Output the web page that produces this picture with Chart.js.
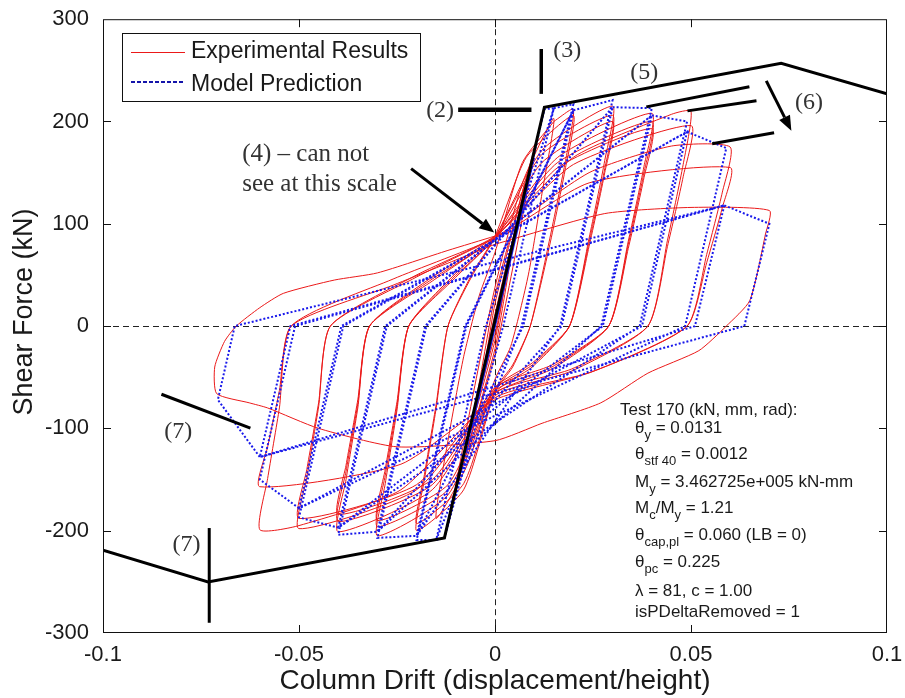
<!DOCTYPE html>
<html>
<head>
<meta charset="utf-8">
<script src="https://cdn.jsdelivr.net/npm/chart.js@4.4.1/dist/chart.umd.min.js"></script>
<style>
  html, body { margin: 0; padding: 0; background: #fff; }
</style>
</head>
<body>
<canvas id="chart" width="905" height="698"></canvas>
<script>
/* Column drift vs shear force – test 170, experiment vs model */

const SANS = '"Liberation Sans", Arial, Helvetica, sans-serif';
const SERIF = '"Liberation Serif", "Times New Roman", serif';

// ── Axis ticks ──────────────────────────────────────
const xTicks = [-0.1, -0.05, 0, 0.05, 0.1];
const yTicks = [-300, -200, -100, 0, 100, 200, 300];

// ── Model backbone (drift, kN) ──────────────────────
const backbone = [[-0.1, -219], [-0.0732, -250], [-0.0129, -207], [0.0126, 214], [0.073, 257], [0.1, 227]];

// ── Experimental results, one array per amplitude group ──
const expSmall = [[0, 0], [0.0035, 62], [0.0018, 25], [0, -8], [-0.0035, -58], [-0.0017, -20], [0, 12],
  [0.005, 92], [0.0026, 42], [0, -14], [-0.005, -84], [-0.0024, -32], [0, 22], [0.0075, 138], [0.0042, 70],
  [0, -22], [-0.0075, -124], [-0.004, -55], [0, 30], [0.0055, 110], [0.01, 172], [0.0062, 90], [0, -28],
  [-0.0055, -100], [-0.01, -158], [-0.006, -75], [0, 38], [0.007, 140], [0.015, 203], [0.012, 130],
  [0.0085, 50], [0.004, -20], [0, -52], [-0.007, -135], [-0.015, -188], [-0.012, -112], [-0.008, -30],
  [-0.004, 30], [0, 72], [0.007, 160], [0.015, 200]];
const exp02 = [[0.015, 200], [0.02, 212], [0.018, 162], [0.014, 86], [0.009, 0], [0.0045, -40], [0, -64],
  [-0.008, -160], [-0.02, -200], [-0.018, -150], [-0.015, -80], [-0.012, 0], [-0.006, 50], [0, 88],
  [0.008, 165], [0.02, 206], [0.018, 155], [0.014, 80], [0.009, 0], [0.0045, -38], [0, -62], [-0.008, -154],
  [-0.02, -193], [-0.018, -145], [-0.015, -76], [-0.012, 0], [-0.006, 48], [0, 86]];
const exp03 = [[0, 86], [0.012, 172], [0.03, 215], [0.028, 162], [0.024, 86], [0.019, 0], [0.0095, -40],
  [0, -65], [-0.012, -165], [-0.03, -205], [-0.028, -154], [-0.025, -82], [-0.022, 0], [-0.011, 48], [0, 88],
  [0.012, 168], [0.03, 206], [0.028, 154], [0.024, 82], [0.019, 0], [0.0095, -38], [0, -62], [-0.012, -160],
  [-0.03, -196], [-0.028, -146], [-0.025, -78], [-0.022, 0], [-0.011, 46], [0, 86],
  [0.012, 160], [0.03, 200], [0.028, 150], [0.024, 78], [0.019, 0], [0.0095, -36], [0, -60], [-0.012, -155],
  [-0.03, -190], [-0.028, -140], [-0.025, -74], [-0.022, 0], [-0.011, 44], [0, 85]];
const exp04 = [[0, 86], [0.016, 165], [0.04, 208], [0.038, 156], [0.034, 83], [0.029, 0], [0.0145, -42],
  [0, -66], [-0.016, -160], [-0.04, -201], [-0.038, -150], [-0.035, -80], [-0.032, 0], [-0.016, 48], [0, 88],
  [0.016, 160], [0.04, 200], [0.038, 150], [0.034, 80], [0.029, 0], [0.0145, -40], [0, -63], [-0.016, -155],
  [-0.04, -191], [-0.038, -142], [-0.035, -76], [-0.032, 0], [-0.016, 46], [0, 86],
  [0.016, 155], [0.04, 193], [0.038, 145], [0.034, 76], [0.029, 0], [0.0145, -38], [0, -60], [-0.016, -150],
  [-0.04, -184], [-0.038, -136], [-0.035, -72], [-0.032, 0], [-0.016, 44], [0, 85]];
const exp05 = [[0, 86], [0.02, 165], [0.045, 207], [0.05, 210], [0.048, 158], [0.044, 84], [0.039, 0],
  [0.0195, -44], [0, -68], [-0.02, -160], [-0.05, -198], [-0.048, -148], [-0.045, -79], [-0.042, 0],
  [-0.021, 48], [0, 88], [0.02, 158], [0.05, 196], [0.048, 146], [0.044, 78], [0.039, 0], [0.0195, -42],
  [0, -65], [-0.02, -155], [-0.05, -188], [-0.048, -140], [-0.045, -75], [-0.042, 0], [-0.021, 46], [0, 86]];
const exp06 = [[0, 86], [0.024, 150], [0.045, 176], [0.06, 175], [0.058, 131], [0.054, 70], [0.049, 0],
  [0.0245, -45], [0, -70], [-0.024, -160], [-0.05, -195], [-0.06, -199], [-0.058, -149], [-0.055, -80],
  [-0.052, 0], [-0.026, 46], [0, 86], [0.024, 140], [0.06, 155], [0.058, 116], [0.054, 62], [0.049, 0],
  [0.0245, -45], [0, -72], [-0.024, -135], [-0.06, -157], [-0.058, -118], [-0.055, -63], [-0.052, 0],
  [-0.026, 40], [0, 80]];
const exp07 = [[0, 80], [0.028, 110], [0.05, 116], [0.07, 113], [0.069, 90], [0.065, 25], [0.059, 0],
  [0.052, -24], [0.039, -46], [0.027, -75], [0.012, -95], [0, -112], [-0.025, -118], [-0.045, -100],
  [-0.058, -80], [-0.0627, -75], [-0.071, -66], [-0.0715, -40], [-0.069, -15], [-0.066, 0], [-0.06, 18],
  [-0.054, 32], [-0.041, 45], [-0.03, 52], [-0.012, 74], [0, 88]];

// ── Model prediction (piecewise linear) ─────────────
const modelElastic = [[0, 0], [0.0035, 58], [-0.0035, -58], [0.005, 83], [-0.005, -83], [0.0075, 124],
  [-0.0075, -124], [0.01, 165], [-0.01, -165], [0.0126, 212], [0.015, 213], [0.0021, 0], [-0.0129, -207],
  [-0.015, -209], [-0.0023, 0], [0.015, 213]];
const model02 = [[0.015, 213], [0.02, 217], [0.0068, 0], [-0.015, -209], [-0.02, -209], [-0.0073, 0],
  [0.02, 211], [0.0072, 0], [-0.02, -205], [-0.0076, 0], [0.02, 211]];
const model03 = [[0.02, 211], [0.03, 221], [0.0166, 0], [-0.02, -205], [-0.03, -207], [-0.0175, 0],
  [0.03, 214], [0.017, 0], [-0.03, -201], [-0.0178, 0], [0.03, 214]];
const model04 = [[0.03, 214], [0.04, 213], [0.0271, 0], [-0.03, -201], [-0.04, -204], [-0.0276, 0],
  [0.04, 206], [0.0275, 0], [-0.04, -197], [-0.028, 0], [0.04, 206]];
const model05 = [[0.04, 206], [0.049, 200], [0.0369, 0], [-0.04, -197], [-0.05, -187], [-0.0387, 0],
  [0.049, 190], [0.0375, 0], [-0.05, -178], [-0.0392, 0], [0.049, 190]];
const model06 = [[0.049, 190], [0.059, 174], [0.0485, 0], [-0.05, -178], [-0.06, -150], [-0.051, 0],
  [0.0585, 118], [0.051, 0], [-0.06, -128], [-0.0522, 0], [0.0585, 118]];
const model07 = [[0.0585, 118], [0.07, 100], [0.0636, 0], [-0.06, -128], [-0.0707, -72], [-0.0664, 0],
  [0.0585, 118]];

// ── Annotations (data units) ────────────────────────
const annoSegments = [
  [-0.0094, 211.4, 0.0093, 211.4, 4.5],
  [0.0118, 270.9, 0.0118, 227, 3.5],
  [0.0386, 214.3, 0.0649, 233.9, 3],
  [0.0491, 210.4, 0.0667, 220.2, 3],
  [0.0554, 178.3, 0.0712, 189, 3],
  [-0.0851, -66.6, -0.0624, -99.8, 3],
  [-0.0729, -197.4, -0.0729, -290, 3]
];
const annoArrows = [[0.0692, 239.7, 0.0756, 190.9], [-0.0214, 153.9, -0.0002, 91.4]];
const annoLabels = [['(2)', -0.0140, 210.4], ['(3)', 0.0184, 269], ['(5)', 0.0381, 247.5],
  ['(6)', 0.0801, 218.2], ['(7)', -0.0808, -103.7], ['(7)', -0.0787, -213.9]];
const noteLines = [['(4) \u2013 can not', -0.0645, 161.7], ['see at this scale', -0.0645, 132.4]];

const testInfo = [
  [['Test 170 (kN, mm, rad):', 0]],
  [['\u03b8', 0], ['y', 1], [' = 0.0131', 0]],
  [['\u03b8', 0], ['stf 40', 1], [' = 0.0012', 0]],
  [['M', 0], ['y', 1], [' = 3.462725e+005 kN-mm', 0]],
  [['M', 0], ['c', 1], ['/M', 0], ['y', 1], [' = 1.21', 0]],
  [['\u03b8', 0], ['cap,pl', 1], [' = 0.060 (LB = 0)', 0]],
  [['\u03b8', 0], ['pc', 1], [' = 0.225', 0]],
  [['\u03bb = 81, c = 1.00', 0]],
  [['isPDeltaRemoved = 1', 0]]
];
const testBaselines = [415, 433, 459, 487, 513, 540, 567, 596, 617];

const expCycles = [expSmall, exp02, exp03, exp04, exp05, exp06, exp07];
const modelCycles = [modelElastic, model02, model03, model04, model05, model06, model07];

const toPts = arr => arr.map(([x, y]) => ({ x, y }));
const RED = 'rgb(235,25,25)';
const BLUE = 'rgb(25,25,235)';

const datasets = [];
datasets.push({ label: 'backbone', data: toPts(backbone), borderColor: '#000', borderWidth: 3, order: 0 });
modelCycles.forEach((c, i) => datasets.push({
  label: 'Model Prediction ' + i, data: toPts(c), borderColor: BLUE, borderWidth: 2,
  borderDash: [2, 2], order: 1
}));
expCycles.forEach((c, i) => datasets.push({
  label: 'Experimental Results ' + i, data: toPts(c), borderColor: RED, borderWidth: 1,
  tension: 0.2, order: 2
}));
datasets.forEach(d => { d.showLine = true; d.pointRadius = 0; d.fill = false; });

function arrow(ctx, x1, y1, x2, y2) {
    const ang = Math.atan2(y2 - y1, x2 - x1);
    const hl = 15, hw = 6;
    const bx = x2 - hl * Math.cos(ang), by = y2 - hl * Math.sin(ang);
    ctx.beginPath();
    ctx.moveTo(x1, y1); ctx.lineTo(bx, by); ctx.stroke();
    ctx.beginPath();
    ctx.moveTo(x2, y2);
    ctx.lineTo(bx + hw * Math.sin(ang), by - hw * Math.cos(ang));
    ctx.lineTo(bx - hw * Math.sin(ang), by + hw * Math.cos(ang));
    ctx.closePath(); ctx.fill();
}

const figurePlugin = {
    id: 'figure',
    beforeDatasetsDraw(chart) {
        const { ctx, chartArea: a, scales: { x, y } } = chart;
        ctx.save();
        ctx.strokeStyle = '#222'; ctx.lineWidth = 1; ctx.setLineDash([6, 4]);
        const x0 = Math.round(x.getPixelForValue(0)) + 0.5, y0 = Math.round(y.getPixelForValue(0)) + 0.5;
        ctx.beginPath();
        ctx.moveTo(x0, a.top); ctx.lineTo(x0, a.bottom);
        ctx.moveTo(a.left, y0); ctx.lineTo(a.right, y0);
        ctx.stroke();
        ctx.restore();
    },
    afterDatasetsDraw(chart) {
        const { ctx, scales: { x, y } } = chart;
        ctx.save();
        ctx.strokeStyle = '#000'; ctx.fillStyle = '#000'; ctx.lineCap = 'butt';
        annoSegments.forEach(([x1, y1, x2, y2, w]) => {
            ctx.lineWidth = w;
            ctx.beginPath();
            ctx.moveTo(x.getPixelForValue(x1), y.getPixelForValue(y1));
            ctx.lineTo(x.getPixelForValue(x2), y.getPixelForValue(y2));
            ctx.stroke();
        });
        ctx.lineWidth = 3;
        annoArrows.forEach(([x1, y1, x2, y2]) => arrow(ctx,
            x.getPixelForValue(x1), y.getPixelForValue(y1), x.getPixelForValue(x2), y.getPixelForValue(y2)));

        ctx.fillStyle = '#333';
        ctx.font = '24px ' + SERIF;
        ctx.textAlign = 'center'; ctx.textBaseline = 'middle';
        annoLabels.forEach(([t, lx, ly]) => ctx.fillText(t, x.getPixelForValue(lx), y.getPixelForValue(ly)));
        ctx.font = '25px ' + SERIF;
        ctx.textAlign = 'left'; ctx.textBaseline = 'alphabetic';
        noteLines.forEach(([t, lx, ly]) => ctx.fillText(t, x.getPixelForValue(lx), y.getPixelForValue(ly)));
        ctx.restore();
    },
    afterDraw(chart) {
        const { ctx, chartArea: a, scales: { x, y } } = chart;
        ctx.save();
        // box + inward ticks
        ctx.strokeStyle = '#111'; ctx.lineWidth = 1;
        ctx.strokeRect(a.left + 0.5, a.top + 0.5, a.right - a.left - 1, a.bottom - a.top - 1);
        ctx.beginPath();
        xTicks.slice(1, -1).forEach(v => {
            const px = Math.round(x.getPixelForValue(v)) + 0.5;
            ctx.moveTo(px, a.bottom); ctx.lineTo(px, a.bottom - 8);
            ctx.moveTo(px, a.top); ctx.lineTo(px, a.top + 8);
        });
        yTicks.slice(1, -1).forEach(v => {
            const py = Math.round(y.getPixelForValue(v)) + 0.5;
            ctx.moveTo(a.left, py); ctx.lineTo(a.left + 8, py);
            ctx.moveTo(a.right, py); ctx.lineTo(a.right - 8, py);
        });
        ctx.stroke();

        // y title
        ctx.save();
        ctx.translate(25, 312);
        ctx.rotate(-Math.PI / 2);
        ctx.fillStyle = '#1a1a1a';
        ctx.font = '27px ' + SANS;
        ctx.textAlign = 'center'; ctx.textBaseline = 'middle';
        ctx.fillText('Shear Force (kN)', 0, 0);
        ctx.restore();

        // legend
        ctx.fillStyle = '#fff';
        ctx.fillRect(122, 33, 299, 69);
        ctx.strokeStyle = '#111'; ctx.lineWidth = 1;
        ctx.strokeRect(122.5, 33.5, 298, 68);
        ctx.strokeStyle = RED; ctx.lineWidth = 1;
        ctx.beginPath(); ctx.moveTo(131, 52.5); ctx.lineTo(185, 52.5); ctx.stroke();
        ctx.strokeStyle = 'rgb(20,20,170)'; ctx.lineWidth = 2; ctx.setLineDash([4, 2]);
        ctx.beginPath(); ctx.moveTo(131, 82); ctx.lineTo(185, 82); ctx.stroke();
        ctx.setLineDash([]);
        ctx.fillStyle = '#1a1a1a';
        ctx.font = '23px ' + SANS;
        ctx.textAlign = 'left'; ctx.textBaseline = 'middle';
        ctx.fillText('Experimental Results', 191, 52);
        ctx.fillText('Model Prediction', 191, 85);

        // test info block
        testInfo.forEach((parts, i) => {
            let cx = i === 0 ? 620 : 635;
            parts.forEach(([t, sub]) => {
                ctx.font = (sub ? '13px ' : '17px ') + SANS;
                ctx.textBaseline = 'alphabetic';
                ctx.fillText(t, cx, testBaselines[i] + (sub ? 6 : 0));
                cx += ctx.measureText(t).width;
            });
        });
        ctx.restore();
    }
};

const fmt = v => String(Math.round(v * 100) / 100);

new Chart(document.getElementById('chart'), {
    type: 'scatter',
    data: { datasets },
    plugins: [figurePlugin],
    options: {
        responsive: false,
        animation: false,
        layout: { padding: { top: 18, right: 18, left: 0, bottom: 0 } },
        plugins: { legend: { display: false }, tooltip: { enabled: false } },
        scales: {
            x: {
                type: 'linear', min: -0.1, max: 0.1,
                afterBuildTicks: s => { s.ticks = xTicks.map(v => ({ value: v })); },
                afterFit: s => { s.height = 65; },
                grid: { display: false }, border: { display: false },
                ticks: { padding: 1, autoSkip: false, maxRotation: 0, color: '#1a1a1a',
                         font: { family: SANS, size: 22 }, callback: v => fmt(v) },
                title: { display: true, text: 'Column Drift (displacement/height)', color: '#1a1a1a',
                         font: { family: SANS, size: 28 }, padding: { top: 0, bottom: 0 } }
            },
            y: {
                type: 'linear', min: -300, max: 300,
                afterBuildTicks: s => { s.ticks = yTicks.map(v => ({ value: v })); },
                afterFit: s => { s.width = 103; },
                grid: { display: false }, border: { display: false },
                ticks: { padding: 6, autoSkip: false, color: '#1a1a1a',
                         font: { family: SANS, size: 22 }, callback: v => fmt(v) }
            }
        }
    }
});
</script>
</body>
</html>
